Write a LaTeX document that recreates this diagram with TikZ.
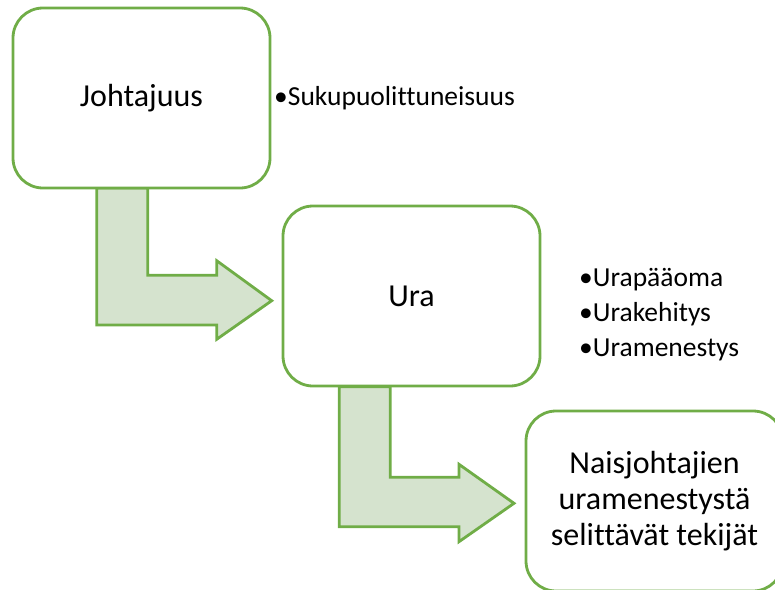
\documentclass[tikz,border=0pt]{standalone}
\usepackage{fontspec}
\setmainfont{Carlito}[Ligatures={NoCommon}]
\definecolor{grn}{HTML}{70AD47}
\definecolor{lgrn}{HTML}{D5E3CE}
\begin{document}
\begin{tikzpicture}[x=1pt,y=-1pt,
  box/.style={draw=grn, line width=2.8pt, fill=white, rounded corners=30pt,
    minimum width=257pt, minimum height=180pt, inner sep=0pt,
    font=\fontsize{32}{36}\selectfont, align=center},
  bentarrow/.style={draw=grn, line width=2.8pt, fill=lgrn, line join=miter},
  bul/.style={anchor=base west, inner sep=0pt, font=\fontsize{27.5}{35}\selectfont}]
\useasboundingbox (0,0) rectangle (775,589);
\clip (0,0) rectangle (775,589);
% bent arrows
\draw[bentarrow] (96.7,188) -- (147.7,188) -- (147.7,275.3) -- (216.7,275.3) -- (216.7,260.7)
  -- (271.7,300.7) -- (216.7,339.3) -- (216.7,325) -- (96.7,325) -- cycle;
\draw[bentarrow] (339.3,386.7) -- (390.3,386.7) -- (390.3,477.3) -- (459,477.3) -- (459,464.3)
  -- (514,503.3) -- (459,541.7) -- (459,526.7) -- (339.3,526.7) -- cycle;
% boxes
\node[box] (johto) at (141.5,98) {Johtajuus};
\node[box] (ura) at (411.5,296) {Ura};
\node[box] (nais) at (654.5,501) {Naisjohtajien\\uramenestystä\\selittävät tekijät};
% bullet texts
\node[bul] (s1) at (274,105) {•Sukupuolittuneisuus};
\node[bul] (u1) at (579,286.7) {•Urapääoma};
\node[bul] (u2) at (579,321.7) {•Urakehitys};
\node[bul] (u3) at (579,356.7) {•Uramenestys};
\end{tikzpicture}
\end{document}
